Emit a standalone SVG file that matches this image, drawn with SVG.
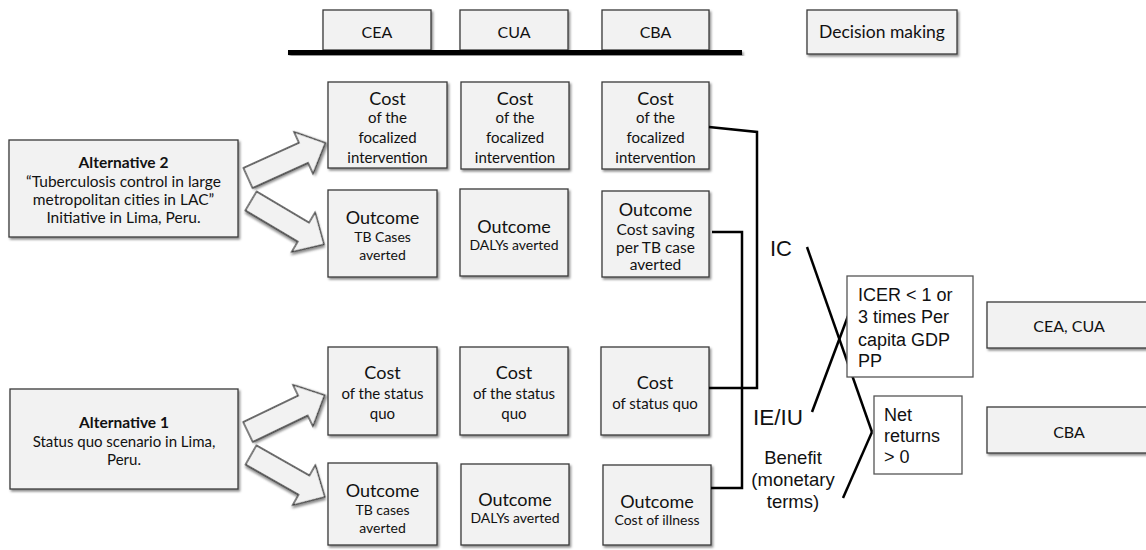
<svg xmlns="http://www.w3.org/2000/svg" width="1146" height="550" viewBox="0 0 1146 550">
<defs>
<filter id="sh" x="-10%" y="-10%" width="130%" height="130%">
<feDropShadow dx="1.5" dy="2" stdDeviation="1.2" flood-color="#000" flood-opacity="0.45"/>
</filter>
<path id="arr" d="M0,-11 L61,-11 L61,-23 L85,0 L61,23 L61,11 L0,11 Z"/>
</defs>
<style>
.box{fill:#f2f2f2;stroke:#3a3a3a;stroke-width:1.3;filter:url(#sh)}
.wbox{fill:#fff;stroke:#555;stroke-width:1.3}
.t{font-family:Lato,"Liberation Sans",sans-serif;fill:#111;text-anchor:middle}
.h{font-size:18px}
.s{font-size:15px}
.xs{font-size:14px}
.m{font-size:16.5px}
.b{font-weight:bold;font-size:15.5px}
.a{font-family:"Liberation Sans",Arial,sans-serif;fill:#111}
.ln{fill:none;stroke:#000;stroke-width:2.5}
.ar{fill:#f2f2f2;stroke:#3a3a3a;stroke-width:1.3;filter:url(#sh)}
</style>
<rect width="1146" height="550" fill="#fff"/>

<g id="header">
<rect class="box" x="323" y="10" width="108" height="40"/>
<text class="t" x="377" y="38" style="font-size:16px">CEA</text>
<rect class="box" x="460" y="10" width="108" height="40"/>
<text class="t" x="514" y="38" style="font-size:16px">CUA</text>
<rect class="box" x="602" y="10" width="107" height="40"/>
<text class="t" x="655.5" y="38" style="font-size:16px">CBA</text>
<rect x="288" y="50" width="454" height="5" fill="#000" filter="url(#sh)"/>
</g>

<g id="decision-making">
<rect class="box" x="807" y="10" width="150" height="44"/>
<text class="t" x="882" y="38" style="font-size:17.5px">Decision making</text>
</g>

<g id="alt2">
<rect class="box" x="9" y="140" width="229" height="97"/>
<text class="t b" x="123.5" y="168">Alternative 2</text>
<text class="t" x="123.5" y="187" style="font-size:15.5px">“Tuberculosis control in large</text>
<text class="t" x="123.5" y="205" style="font-size:15.5px">metropolitan cities in LAC”</text>
<text class="t" x="123.5" y="223" style="font-size:15.5px">Initiative in Lima, Peru.</text>
</g>

<g id="alt1">
<rect class="box" x="10" y="389" width="228" height="100"/>
<text class="t b" x="124" y="428">Alternative 1</text>
<text class="t s" x="124" y="447">Status quo scenario in Lima,</text>
<text class="t s" x="124" y="465">Peru.</text>
</g>

<g id="arrows">
<use href="#arr" class="ar" transform="translate(248,178) rotate(-24.4)"/>
<use href="#arr" class="ar" transform="translate(251,201) rotate(30.7)"/>
<use href="#arr" class="ar" transform="translate(248,432) rotate(-25.7)"/>
<use href="#arr" class="ar" transform="translate(251,455) rotate(29.6)"/>
</g>

<g id="cea-cost-alt2">
<rect class="box" x="328" y="82" width="119" height="86"/>
<text class="t h" x="387.5" y="105">Cost</text>
<text class="t s" x="387.5" y="123">of the</text>
<text class="t s" x="387.5" y="143">focalized</text>
<text class="t s" x="387.5" y="163">intervention</text>
</g>
<g id="cua-cost-alt2">
<rect class="box" x="461" y="82" width="108" height="87"/>
<text class="t h" x="515" y="105">Cost</text>
<text class="t s" x="515" y="123">of the</text>
<text class="t s" x="515" y="143">focalized</text>
<text class="t s" x="515" y="163">intervention</text>
</g>
<g id="cba-cost-alt2">
<rect class="box" x="602" y="82" width="107" height="87"/>
<text class="t h" x="655.5" y="105">Cost</text>
<text class="t s" x="655.5" y="123">of the</text>
<text class="t s" x="655.5" y="143">focalized</text>
<text class="t s" x="655.5" y="163">intervention</text>
</g>

<g id="cea-outcome-alt2">
<rect class="box" x="328" y="190" width="109" height="87"/>
<text class="t h" x="382.5" y="224">Outcome</text>
<text class="t xs" x="382.5" y="242">TB Cases</text>
<text class="t xs" x="382.5" y="260">averted</text>
</g>
<g id="cua-outcome-alt2">
<rect class="box" x="460" y="189" width="108" height="87"/>
<text class="t h" x="514" y="233">Outcome</text>
<text class="t xs" x="514" y="250">DALYs averted</text>
</g>
<g id="cba-outcome-alt2">
<rect class="box" x="602" y="191" width="107" height="86"/>
<text class="t h" x="655.5" y="216">Outcome</text>
<text class="t xs" x="655.5" y="235" style="font-size:15.5px">Cost saving</text>
<text class="t xs" x="655.5" y="253" style="font-size:15.5px">per TB case</text>
<text class="t xs" x="655.5" y="270" style="font-size:15.5px">averted</text>
</g>

<g id="cea-cost-alt1">
<rect class="box" x="328" y="347" width="109" height="88"/>
<text class="t h" x="382.5" y="379">Cost</text>
<text class="t s" x="382.5" y="399">of the status</text>
<text class="t s" x="382.5" y="419">quo</text>
</g>
<g id="cua-cost-alt1">
<rect class="box" x="460" y="347" width="108" height="88"/>
<text class="t h" x="514" y="379">Cost</text>
<text class="t s" x="514" y="399">of the status</text>
<text class="t s" x="514" y="419">quo</text>
</g>
<g id="cba-cost-alt1">
<rect class="box" x="601" y="347" width="108" height="88"/>
<text class="t h" x="655" y="389">Cost</text>
<text class="t s" x="655" y="409">of status quo</text>
</g>

<g id="cea-outcome-alt1">
<rect class="box" x="328" y="463" width="109" height="82"/>
<text class="t h" x="382.5" y="497">Outcome</text>
<text class="t xs" x="382.5" y="515">TB cases</text>
<text class="t xs" x="382.5" y="533">averted</text>
</g>
<g id="cua-outcome-alt1">
<rect class="box" x="461" y="464" width="108" height="81"/>
<text class="t h" x="515" y="506">Outcome</text>
<text class="t xs" x="515" y="523">DALYs averted</text>
</g>
<g id="cba-outcome-alt1">
<rect class="box" x="603" y="465" width="108" height="80"/>
<text class="t h" x="657" y="508">Outcome</text>
<text class="t xs" x="657" y="525">Cost of illness</text>
</g>

<g id="connectors">
<polyline class="ln" points="709,127 757,132 757,388 709,388"/>
<polyline class="ln" points="712,232 742,232 742,488 711,488"/>
<line class="ln" x1="807" y1="247" x2="872" y2="432"/>
<line class="ln" x1="812" y1="412" x2="848" y2="316"/>
<line class="ln" x1="843" y1="498" x2="872" y2="432"/>
</g>

<g id="labels">
<text class="a" x="770" y="256" style="font-size:22px">IC</text>
<text class="a" x="753" y="425" style="font-size:22.5px">IE/IU</text>
<text class="a" x="793" y="464" text-anchor="middle" style="font-size:18.5px">Benefit</text>
<text class="a" x="793" y="486" text-anchor="middle" style="font-size:18.5px">(monetary</text>
<text class="a" x="793" y="508" text-anchor="middle" style="font-size:18.5px">terms)</text>
</g>

<g id="icer">
<rect class="wbox" x="847" y="276" width="126" height="101"/>
<text class="a" x="858" y="301" style="font-size:18px">ICER &lt; 1 or</text>
<text class="a" x="858" y="323" style="font-size:18px">3 times Per</text>
<text class="a" x="858" y="346" style="font-size:18px">capita GDP</text>
<text class="a" x="858" y="367" style="font-size:18px">PP</text>
</g>

<g id="net-returns">
<rect class="wbox" x="874" y="396" width="88" height="78"/>
<text class="a" x="884" y="421" style="font-size:18px">Net</text>
<text class="a" x="884" y="442" style="font-size:18px">returns</text>
<text class="a" x="884" y="463" style="font-size:18px">&gt; 0</text>
</g>

<g id="cea-cua">
<rect class="box" x="987" y="302" width="162" height="46"/>
<text class="t" x="1069" y="332" style="font-size:16px">CEA, CUA</text>
</g>
<g id="cba-decision">
<rect class="box" x="987" y="407" width="162" height="46"/>
<text class="t" x="1069" y="438" style="font-size:16px">CBA</text>
</g>
</svg>
